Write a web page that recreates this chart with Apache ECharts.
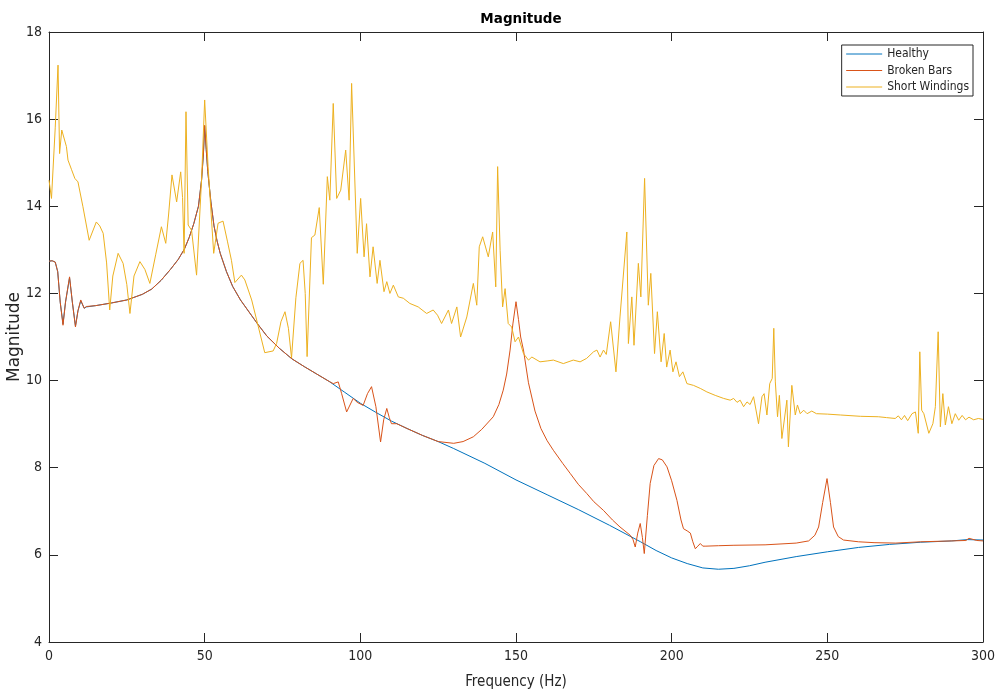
<!DOCTYPE html>
<html>
<head>
<meta charset="utf-8">
<script src="https://cdn.jsdelivr.net/npm/echarts@6/dist/echarts.min.js"></script>
<style>
  html, body { margin: 0; padding: 0; background: #fff; }
  #chart { width: 999px; height: 693px; }
</style>
</head>
<body>
<div id="chart"></div>
<script>
// [frequency Hz, magnitude] pairs
const healthy = [
  [0,12.74],[1,12.75],[2,12.72],[2.8,12.5],[3.6,11.8],[4.5,11.3],[5.3,11.8],[6.6,12.36],[7.5,11.8],
  [8.5,11.25],[9.3,11.6],[10.2,11.83],[11.3,11.66],[12,11.69],[15,11.72],[20,11.78],[25,11.85],
  [30,11.98],[33,12.1],[36,12.3],[39,12.55],[41.5,12.78],[43.5,13.02],[45,13.28],[46.5,13.6],
  [48,14.0],[49,14.6],[49.6,15.2],[50,15.84],[50.5,15.3],[51,14.8],[52,14.1],[53,13.55],[54,13.2],
  [55,12.92],[57,12.5],[59,12.16],[61.5,11.85],[64.5,11.55],[67,11.3],[70,11.02],[74,10.74],
  [78,10.5],[82,10.32],[86,10.15],[90,9.98],[95,9.73],[100,9.48],[105,9.27],[110,9.07],[115,8.9],
  [120,8.74],[125,8.6],[130,8.44],[140,8.1],[150,7.72],[160,7.38],[170,7.04],[180,6.68],[190,6.3],
  [195,6.1],[200,5.93],[205,5.8],[210,5.7],[215,5.67],[220,5.69],[225,5.75],[230,5.83],[240,5.96],
  [250,6.07],[260,6.17],[270,6.24],[280,6.29],[290,6.32],[295,6.35],[300,6.34]
];

const brokenBars = [
  [0,12.74],[1,12.75],[2,12.72],[2.8,12.5],[3.6,11.8],[4.5,11.27],[5.3,11.8],[6.6,12.38],[7.5,11.8],
  [8.5,11.23],[9.3,11.6],[10.2,11.85],[11.3,11.66],[12,11.7],[15,11.72],[20,11.78],[25,11.85],
  [30,11.98],[33,12.1],[36,12.3],[39,12.55],[41.5,12.78],[43.5,13.02],[45,13.28],[46.5,13.6],
  [48,14.0],[49,14.6],[49.6,15.2],[50,15.86],[50.5,15.3],[51,14.8],[52,14.1],[53,13.55],[54,13.2],
  [55,12.92],[57,12.5],[59,12.16],[61.5,11.85],[64.5,11.55],[67,11.3],[70,11.02],[74,10.74],
  [78,10.5],[82,10.32],[86,10.15],[90,9.98],[91.3,9.93],[92.9,9.97],[94,9.7],[95.6,9.28],[97.7,9.59],
  [99,9.5],[100.9,9.43],[102.3,9.7],[103.6,9.86],[105,9.4],[106.5,8.59],[107.5,9.1],[108.5,9.36],
  [109.3,9.15],[110,9.01],[111.7,9.01],[115,8.9],[120,8.74],[125,8.6],[130,8.56],[133,8.6],
  [136.3,8.71],[139,8.88],[142.7,9.17],[144.5,9.45],[145.9,9.78],[147,10.15],[148.1,10.7],[149,11.3],
  [150,11.81],[150.8,11.4],[151.5,11.0],[152.4,10.7],[154,9.95],[156.1,9.3],[158,8.9],[160,8.62],
  [162,8.4],[165,8.1],[167.4,7.87],[170,7.62],[172.7,7.41],[175,7.22],[178.1,7.02],[181,6.8],
  [183.4,6.64],[186.7,6.45],[187.6,6.35],[188.3,6.18],[189.1,6.5],[189.9,6.72],[190.6,6.4],
  [191.2,6.03],[192.2,6.9],[193.1,7.64],[194.3,8.05],[195.8,8.21],[197,8.18],[198.5,8.02],[200,7.7],
  [201.7,7.25],[203,6.8],[203.8,6.6],[205,6.55],[206,6.5],[206.8,6.3],[207.6,6.14],[208.4,6.2],
  [209.2,6.26],[210,6.2],[211,6.2],[215,6.21],[220,6.22],[230,6.23],[240,6.27],[244,6.32],[246,6.45],
  [247.2,6.64],[248.5,7.2],[249.9,7.75],[251,7.2],[252,6.64],[253.5,6.42],[255.2,6.34],[260,6.3],
  [265,6.28],[272,6.27],[280,6.3],[290,6.32],[294.5,6.33],[295.5,6.38],[296.5,6.36],[298,6.33],[300,6.32]
];

const shortWindings = [
  [0,14.6],[0.8,14.18],[2.0,15.8],[2.9,17.24],[3.4,15.21],[4.1,15.75],[4.5,15.75],[5.6,15.37],
  [6.1,15.06],[7.2,14.85],[8.3,14.64],[9.3,14.56],[10.9,13.99],[12.9,13.22],[15.2,13.64],[16.3,13.55],
  [17.4,13.38],[18.5,12.7],[19.5,11.62],[20.5,12.4],[22.2,12.92],[23.8,12.69],[25,12.2],[26,11.54],
  [27.3,12.4],[29.2,12.73],[30.8,12.55],[32.4,12.23],[34.3,12.9],[36.1,13.53],[37.5,13.15],[38.4,13.8],
  [39.5,14.72],[41,14.1],[42.3,14.79],[42.9,14.2],[43.4,12.92],[44,16.17],[44.7,13.57],[45.8,13.45],
  [47.4,12.42],[49,14.6],[50,16.44],[51.1,14.91],[52.9,12.92],[54.3,13.61],[55.9,13.66],[57.3,13.2],
  [58.6,12.76],[59.7,12.25],[61.8,12.42],[62.9,12.31],[65.1,11.85],[66.7,11.39],[69.3,10.64],[72,10.68],
  [73.1,10.85],[74.5,11.35],[75.8,11.58],[76.9,11.2],[77.9,10.52],[79.3,11.9],[80.6,12.69],[81.6,12.76],
  [82.3,12.0],[82.9,10.55],[84.3,13.28],[85.4,13.34],[86.8,13.97],[88.1,12.21],[89.4,14.68],[90.2,14.14],
  [91.3,16.36],[92.4,14.18],[93.7,14.37],[95.3,15.29],[96.4,14.14],[97.2,16.82],[99,12.92],[100.1,14.18],
  [101.2,12.84],[102,13.6],[103.1,12.38],[104.1,13.07],[105.4,12.23],[106.3,12.76],[107.6,12.04],
  [108.5,12.27],[109.5,12.0],[110.6,12.19],[112.2,11.92],[113.8,11.89],[115.9,11.77],[118.6,11.69],
  [121.3,11.54],[123.4,11.62],[124.8,11.5],[126.1,11.31],[128.3,11.62],[129.3,11.31],[131,11.69],
  [132.2,11.0],[134.2,11.46],[136.3,12.23],[137.4,11.73],[138.2,13.07],[139.3,13.3],[141.1,12.84],
  [142.5,13.41],[143.5,12.15],[144.1,14.91],[144.9,12.99],[145.7,11.69],[146.5,12.11],[147.5,11.31],
  [148.6,11.23],[149.7,10.89],[150.8,11.0],[152.4,10.62],[154,10.47],[155.1,10.54],[157.7,10.43],
  [160,10.45],[162,10.47],[165.2,10.39],[168.4,10.47],[170.6,10.43],[172.7,10.51],[174.9,10.66],
  [176,10.7],[177,10.54],[178.1,10.7],[179,10.6],[180.4,11.35],[182.1,10.2],[183.4,11.46],[185.6,13.41],
  [186.1,10.85],[187.2,11.92],[187.9,10.81],[189.3,12.69],[190.1,11.92],[191.3,14.64],[192.5,11.73],
  [193.3,12.46],[194.5,10.62],[195.4,11.58],[196.6,10.43],[197.6,11.08],[198.4,10.31],[199.5,10.7],
  [200.4,10.2],[201.4,10.43],[202.5,10.09],[203.6,10.2],[204.9,9.93],[207,9.89],[209.2,9.82],
  [211.3,9.74],[214,9.66],[216.7,9.59],[218.8,9.55],[219.9,9.59],[221,9.5],[222,9.55],[223.1,9.4],
  [224.2,9.51],[225.2,9.45],[226.3,9.63],[227.9,9.01],[229,9.63],[229.7,9.7],[230.6,9.21],[231.5,9.93],
  [232.3,10.05],[232.8,11.2],[233.3,9.97],[234,9.17],[234.6,9.66],[235.4,8.67],[237,9.55],[237.5,8.48],
  [238.6,9.89],[239.7,9.21],[240.4,9.44],[241.3,9.24],[242.4,9.32],[243.5,9.24],[245,9.3],[246.5,9.24],
  [250,9.23],[254.2,9.21],[260.6,9.18],[266.4,9.17],[269,9.15],[271.8,9.13],[272.8,9.19],[273.8,9.1],
  [274.8,9.2],[275.8,9.08],[277.2,9.24],[278.3,9.28],[279.2,8.79],[279.7,10.66],[280.3,9.32],[281,9.24],
  [282.6,8.79],[283.9,9.01],[284.7,9.4],[285.6,11.12],[286.3,8.94],[287.1,9.7],[287.9,8.98],[288.9,9.4],
  [290,9.01],[291.1,9.24],[292.2,9.09],[293.3,9.2],[294.4,9.1],[295.5,9.16],[297,9.1],[298.5,9.13],[300,9.11]
];

const seriesNames = ['Healthy', 'Broken Bars', 'Short Windings'];
const xTicks = [0, 50, 100, 150, 200, 250, 300];
const yTicks = [4, 6, 8, 10, 12, 14, 16, 18];

const narrow = '"DejaVu Sans Condensed", "DejaVu Sans", sans-serif';
const wide = '"DejaVu Sans", sans-serif';
const axisColor = '#262626';

let chart = echarts.init(document.getElementById('chart'));

function frameAxis(pos, ticks, showLabels) {
  return {
    type: 'value',
    position: pos,
    min: ticks[0],
    max: ticks[ticks.length - 1],
    interval: ticks[1] - ticks[0],
    axisLine: { show: true, onZero: false, lineStyle: { color: axisColor, width: 1 } },
    axisTick: { show: true, inside: true, length: 9, lineStyle: { color: axisColor } },
    axisLabel: {
      show: showLabels,
      color: axisColor,
      fontFamily: narrow,
      fontSize: 14,
      margin: 7
    },
    splitLine: { show: false }
  };
}

const xBottom = frameAxis('bottom', xTicks, true);
xBottom.name = 'Frequency (Hz)';
xBottom.nameLocation = 'middle';
xBottom.nameGap = 33;
xBottom.nameMoveOverlap = false;
xBottom.nameTextStyle = { color: axisColor, fontFamily: narrow, fontSize: 15 };

const yLeft = frameAxis('left', yTicks, true);
yLeft.name = 'Magnitude';
yLeft.nameLocation = 'middle';
yLeft.nameGap = 26;
yLeft.nameMoveOverlap = false;
yLeft.nameTextStyle = { color: axisColor, fontFamily: wide, fontSize: 17 };

const colors = ['#0072BD', '#D95319', '#EDB120'];
const datasets = [healthy, brokenBars, shortWindings];

const option = {
  backgroundColor: '#fff',
  animation: false,
  title: {
    text: 'Magnitude',
    left: 516,
    textAlign: 'center',
    top: 7,
    textStyle: { color: '#000', fontFamily: wide, fontSize: 13.5, fontWeight: 'bold' }
  },
  grid: { left: 49, right: 16, top: 32, bottom: 51, containLabel: false, outerBoundsMode: 'none' },
  legend: {
    data: seriesNames,
    orient: 'vertical',
    right: 26,
    top: 45,
    itemWidth: 36,
    itemHeight: 14,
    itemGap: 4.5,
    padding: [3, 4, 3, 4],
    borderColor: axisColor,
    borderWidth: 1,
    backgroundColor: '#fff',
    itemStyle: { opacity: 0 },
    lineStyle: { width: 1 },
    textStyle: { color: axisColor, fontFamily: narrow, fontSize: 12 }
  },
  xAxis: [xBottom, frameAxis('top', xTicks, false)],
  yAxis: [yLeft, frameAxis('right', yTicks, false)],
  series: datasets.map((d, i) => ({
    name: seriesNames[i],
    type: 'line',
    data: d,
    xAxisIndex: 0,
    yAxisIndex: 0,
    symbol: 'none',
    color: colors[i],
    lineStyle: { width: 1, color: colors[i] }
  }))
};

chart.setOption(option);
</script>
</body>
</html>
